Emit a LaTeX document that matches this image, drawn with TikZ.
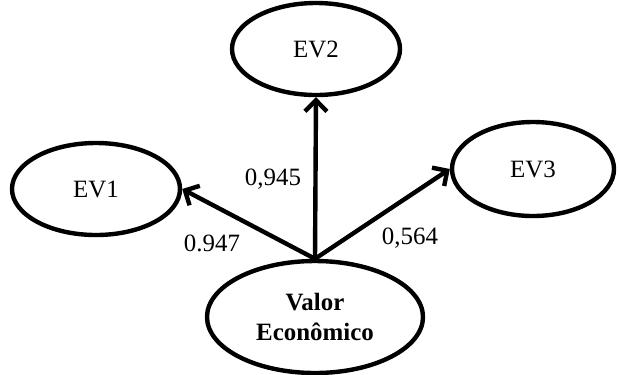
\documentclass[tikz,border=0pt]{standalone}
\usepackage{fontspec}
\setmainfont{Liberation Serif}
\usetikzlibrary{shapes.geometric,arrows.meta}
\begin{document}
\begin{tikzpicture}[x=1bp,y=-1bp,
  latent/.style={ellipse,draw,line width=4.4bp,inner sep=0pt,font=\fontsize{25}{30}\selectfont},
  load/.style={line width=4.4bp,-{Straight Barb[length=11bp,width=22bp,line width=4.4bp]}},
  coef/.style={font=\fontsize{25}{30}\selectfont,inner sep=0pt}]
\useasboundingbox (0,0) rectangle (619,374);
\node[latent,minimum width=168bp,minimum height=92bp] (ev2) at (316,49) {EV2};
\node[latent,minimum width=168bp,minimum height=92bp] (ev1) at (96,189) {EV1};
\node[latent,minimum width=162bp,minimum height=94bp] (ev3) at (533,169) {EV3};
\node[latent,minimum width=216bp,minimum height=112bp,align=center,
  font=\fontsize{25}{30}\selectfont\bfseries] (val) at (315,317) {Valor\\Econômico};
\draw[load] (val.north) -- (ev2.south);
\draw[load] (val.north) -- (ev1.east);
\draw[load] (val.north) -- (ev3.west);
\node[coef] (l2) at (273,179) {0,945};
\node[coef] (l1) at (212,243) {0.947};
\node[coef] (l3) at (410,238) {0,564};
\end{tikzpicture}
\end{document}
